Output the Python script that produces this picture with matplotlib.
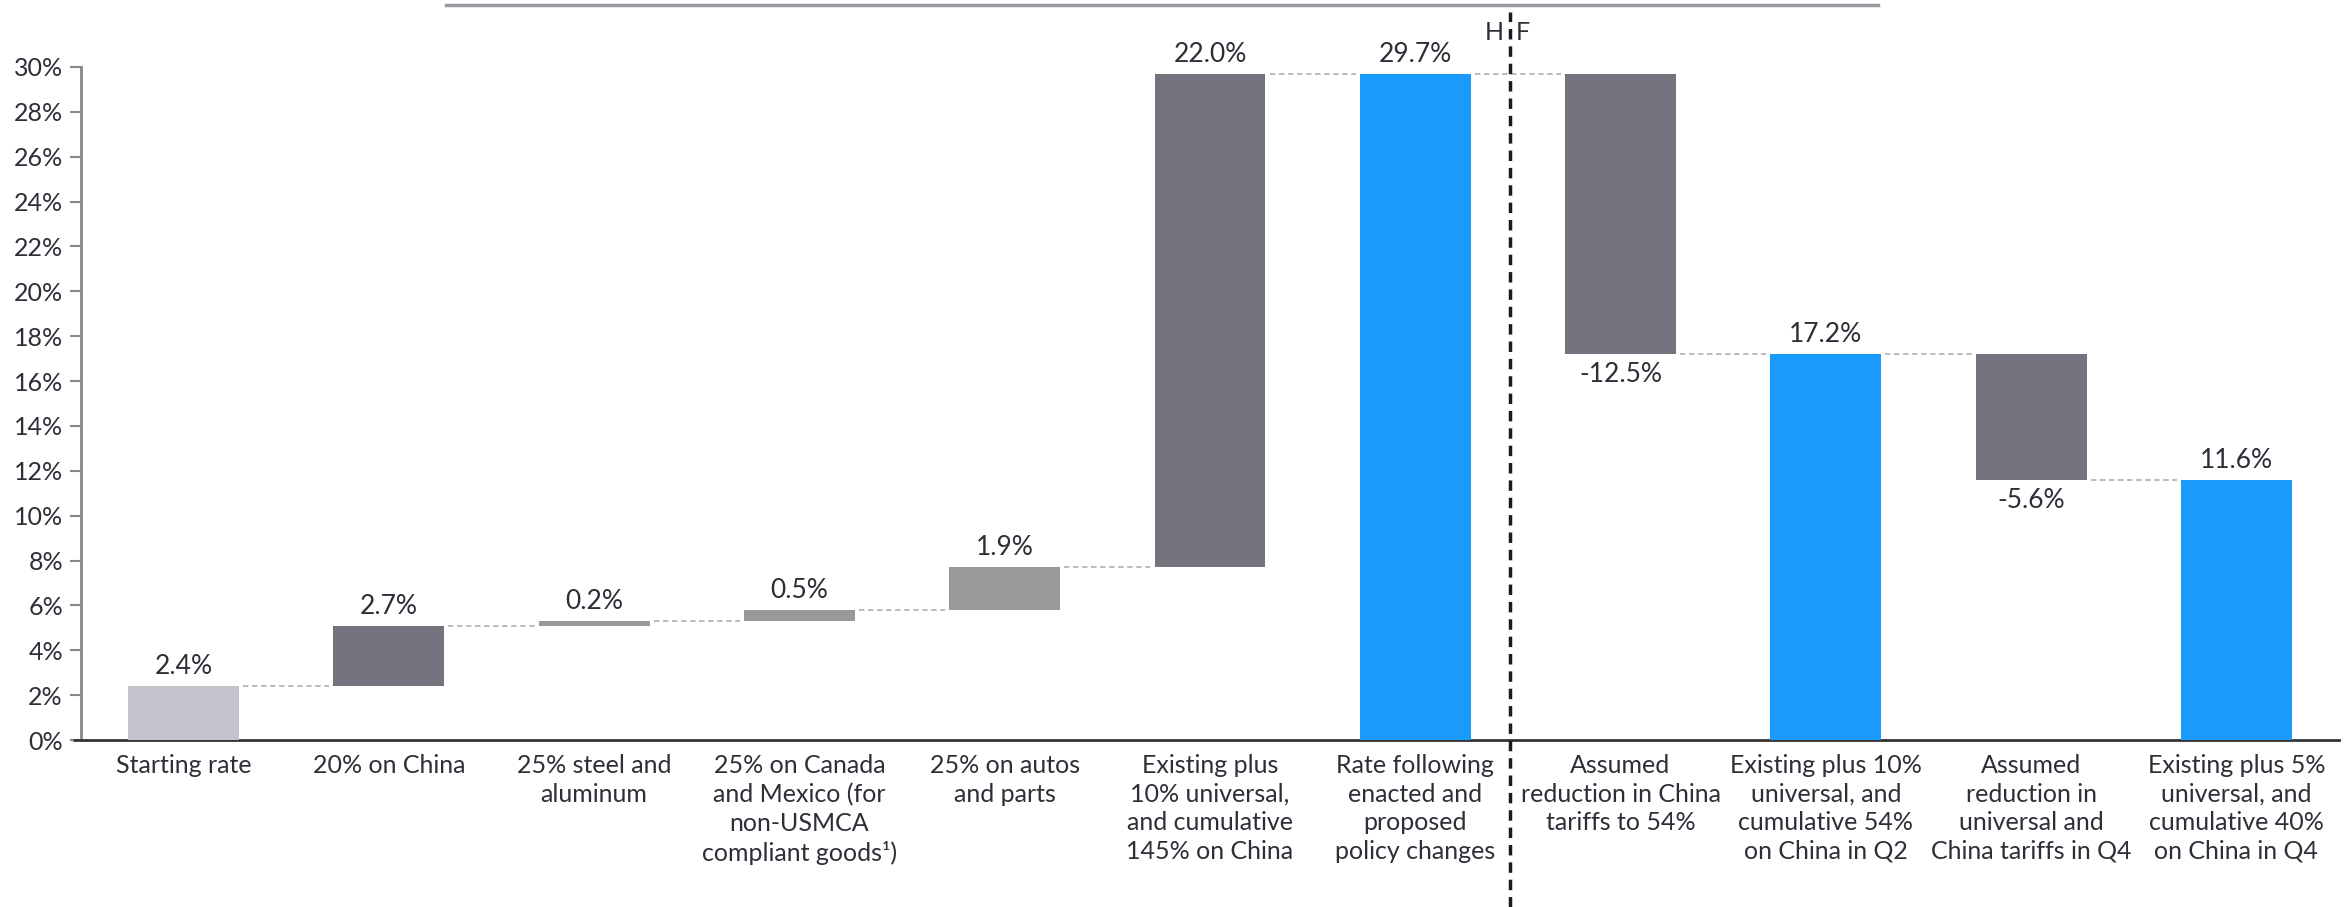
import matplotlib
matplotlib.use('Agg')
import matplotlib.pyplot as plt
from matplotlib.lines import Line2D

# данные водопада
categories = [
    'Starting rate',
    '20% on China',
    '25% steel and\naluminum',
    '25% on Canada\nand Mexico (for\nnon-USMCA\ncompliant goods\u00b9)',
    '25% on autos\nand parts',
    'Existing plus\n10% universal,\nand cumulative\n145% on China',
    'Rate following\nenacted and\nproposed\npolicy changes',
    'Assumed\nreduction in China\ntariffs to 54%',
    'Existing plus 10%\nuniversal, and\ncumulative 54%\non China in Q2',
    'Assumed\nreduction in\nuniversal and\nChina tariffs in Q4',
    'Existing plus 5%\nuniversal, and\ncumulative 40%\non China in Q4',
]
values = [2.4, 2.7, 0.2, 0.5, 1.9, 22.0, 29.7, -12.5, 17.2, -5.6, 11.6]
is_total = [True, False, False, False, False, False, True, False, True, False, True]
y_ticks = list(range(0, 31, 2))

# стили
colors = ['#c4c4cd', '#74737e', '#999999', '#999999', '#999999', '#74737e',
          '#1a9afa', '#74737e', '#1a9afa', '#74737e', '#1a9afa']
text_color = '#2e2e38'
font = ['Lato', 'DejaVu Sans']
plt.rcParams['font.family'] = font

W, H = 2349, 907
fig = plt.figure(figsize=(W / 100, H / 100), dpi=100)
ax = fig.add_axes([81 / W, 1 - 740 / H, (2339 - 81) / W, (740 - 67) / H])

bar_w = 0.54
bottoms, tops = [], []
level = 0.0
for v, tot in zip(values, is_total):
    if tot:
        b, t = 0.0, v
    else:
        b, t = level, level + v
    level = t
    bottoms.append(min(b, t))
    tops.append(max(b, t))

x = list(range(len(values)))
heights = [t - b for b, t in zip(bottoms, tops)]
ax.bar(x, heights, bottom=bottoms, width=bar_w, color=colors, linewidth=0, zorder=3)

# пунктирные соединители между столбцами
level = 0.0
for i, (v, tot) in enumerate(zip(values, is_total)):
    level = v if tot else level + v
    if i < len(values) - 1:
        ax.plot([i + bar_w / 2 + 0.02, i + 1 - bar_w / 2 - 0.02], [level, level],
                color='#b4b4bc', lw=1.3, ls=(0, (3, 2)), zorder=2)

# подписи значений
for i, v in enumerate(values):
    if v >= 0:
        ax.annotate(f'{v:.1f}%', (i, tops[i]), xytext=(0, 14), textcoords='offset points',
                    ha='center', va='center', fontsize=19, color=text_color)
    else:
        ax.annotate(f'{v:.1f}%', (i, bottoms[i]), xytext=(0, -15), textcoords='offset points',
                    ha='center', va='center', fontsize=19, color=text_color)

ax.set_xlim(-0.5, 10.5)
ax.set_ylim(0, 30)
ax.set_yticks(y_ticks)
ax.set_yticklabels([f'{t}%' for t in y_ticks])
ax.set_xticks(x)
ax.set_xticklabels(categories, linespacing=1.3, va='top')
ax.tick_params(axis='x', length=0, pad=10, labelsize=18, labelcolor=text_color)
ax.tick_params(axis='y', length=8, width=1.5, color='#888888', pad=5,
               labelsize=18, labelcolor=text_color)

for s in ['top', 'right']:
    ax.spines[s].set_visible(False)
ax.spines['left'].set_color('#888888')
ax.spines['left'].set_linewidth(2)
ax.spines['bottom'].set_color('#333333')
ax.spines['bottom'].set_linewidth(2)
# ось X чуть заходит влево, до конца засечек
ax.plot([-0.54, -0.5], [0, 0], color='#333333', lw=2, clip_on=False, solid_capstyle='butt')

# вертикальная пунктирная линия H / F
xv = 6.46
ax.axvline(xv, ymin=(740 - H) / 673, ymax=(740 - 12) / 673, color='#1a1a24', lw=2.5,
           ls=(0, (3, 2)), clip_on=False, zorder=4)
ax.text(xv - 0.03, (740 - 32) / 673, 'H', transform=ax.get_xaxis_transform(),
        ha='right', va='center', fontsize=18, color=text_color)
ax.text(xv + 0.03, (740 - 32) / 673, 'F', transform=ax.get_xaxis_transform(),
        ha='left', va='center', fontsize=18, color=text_color)

# линия сверху
fig.add_artist(Line2D([446 / W, 1878 / W], [1 - 5 / H, 1 - 5 / H], color='#9a9aa2', lw=2.5))

fig.savefig('out.png', dpi=100, facecolor='white')
